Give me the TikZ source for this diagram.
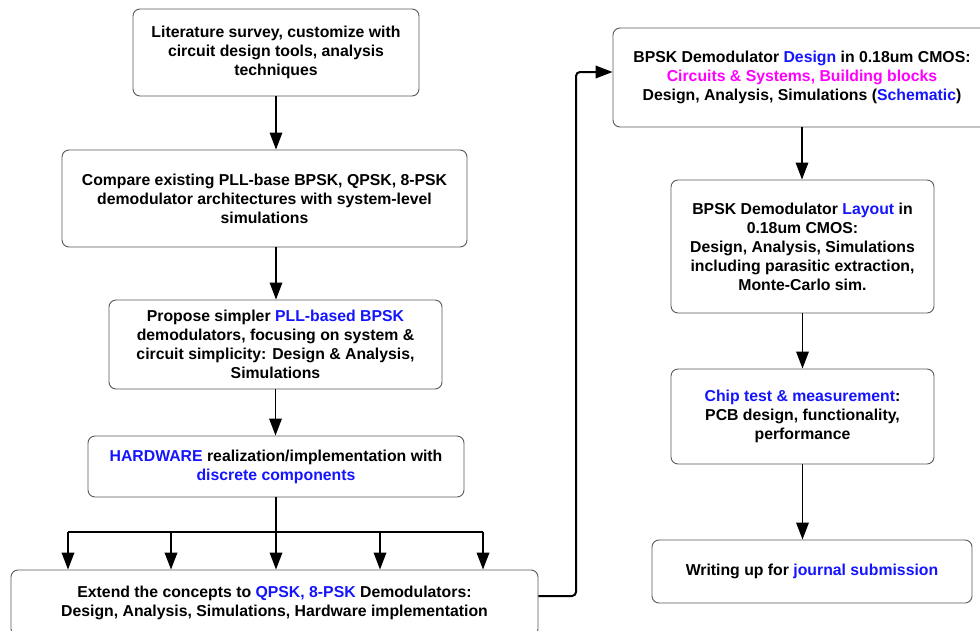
\documentclass[tikz,border=0pt]{standalone}
\usepackage{fontspec}
\setmainfont{Liberation Sans}
\usetikzlibrary{arrows.meta}
\definecolor{hlblue}{RGB}{20,20,255}
\definecolor{hlpink}{RGB}{255,0,255}
\newcommand{\bl}[1]{\textcolor{hlblue}{#1}}
\newcommand{\pk}[1]{\textcolor{hlpink}{#1}}
\tikzset{
  stage/.style={draw=black!65, line width=0.9pt, rounded corners=7pt, align=center,
    inner sep=0pt, font=\fontsize{15.8}{19}\selectfont\bfseries},
  arr/.style={-{Triangle[length=17pt,width=12.5pt]}, line width=1.7pt},
}
\begin{document}
\begin{tikzpicture}[x=1pt,y=-1pt]
\useasboundingbox (0,0) rectangle (980,630);
\clip (0,0) rectangle (980,630);
% left column
\node [stage, minimum width=286, minimum height=87] (lit) at (276,52.5)
  {Literature survey, customize with\\circuit design tools, analysis\\techniques};
\node [stage, minimum width=405, minimum height=97] (cmp) at (264.5,198.5)
  {Compare existing PLL-base BPSK, QPSK, 8-PSK\\demodulator architectures with system-level\\simulations};
\node [stage, minimum width=333, minimum height=89] (prop) at (275.5,344.5)
  {Propose simpler \bl{PLL-based BPSK}\\demodulators, focusing on system \&\\circuit simplicity: Design \& Analysis,\\Simulations};
\node [stage, minimum width=376, minimum height=61] (hw) at (276,466.5)
  {\bl{HARDWARE} realization/implementation with\\\bl{discrete components}};
\node [stage, minimum width=527, minimum height=66] (ext) at (274.5,603)
  {Extend the concepts to \bl{QPSK, 8-PSK} Demodulators:\\Design, Analysis, Simulations, Hardware implementation};
% right column
\node [stage, minimum width=378, minimum height=99] (des) at (802,77.5)
  {BPSK Demodulator \bl{Design} in 0.18um CMOS:\\\pk{Circuits \& Systems, Building blocks}\\Design, Analysis, Simulations (\bl{Schematic})};
\node [stage, minimum width=263, minimum height=133] (lay) at (802.5,246.5)
  {BPSK Demodulator \bl{Layout} in\\0.18um CMOS:\\Design, Analysis, Simulations\\including parasitic extraction,\\Monte-Carlo sim.};
\node [stage, minimum width=263, minimum height=95] (chip) at (802.5,416.5)
  {\bl{Chip test \& measurement}:\\PCB design, functionality,\\performance};
\node [stage, minimum width=320, minimum height=63] (wri) at (812,571.5)
  {Writing up for \bl{journal submission}};

\draw [arr] (lit.south) -- (lit.south |- cmp.north);
\draw [arr] (lit.south |- cmp.south) -- (lit.south |- prop.north);
\draw [arr] (prop.south) -- (prop.south |- hw.north);
\draw [line width=1.9pt] (hw.south) -- (276,532) coordinate (fork);
\foreach \x [count=\i] in {68,171,276,380,483} {
  \coordinate (b\i) at (\x,532);
  \draw [arr, line width=1.9pt] (b\i) -- (b\i |- ext.north);
}
\draw [line width=1.9pt] (b1) -- (b5);

\draw [arr, line width=2pt, rounded corners=4pt] (ext.east |- 0,596) -| (576,72) -- (des.west |- 0,72);
\draw [arr] (des.south) -- (des.south |- lay.north);
\draw [arr] (lay.south) -- (lay.south |- chip.north);
\draw [arr] (chip.south) -- (chip.south |- wri.north);
\end{tikzpicture}
\end{document}
